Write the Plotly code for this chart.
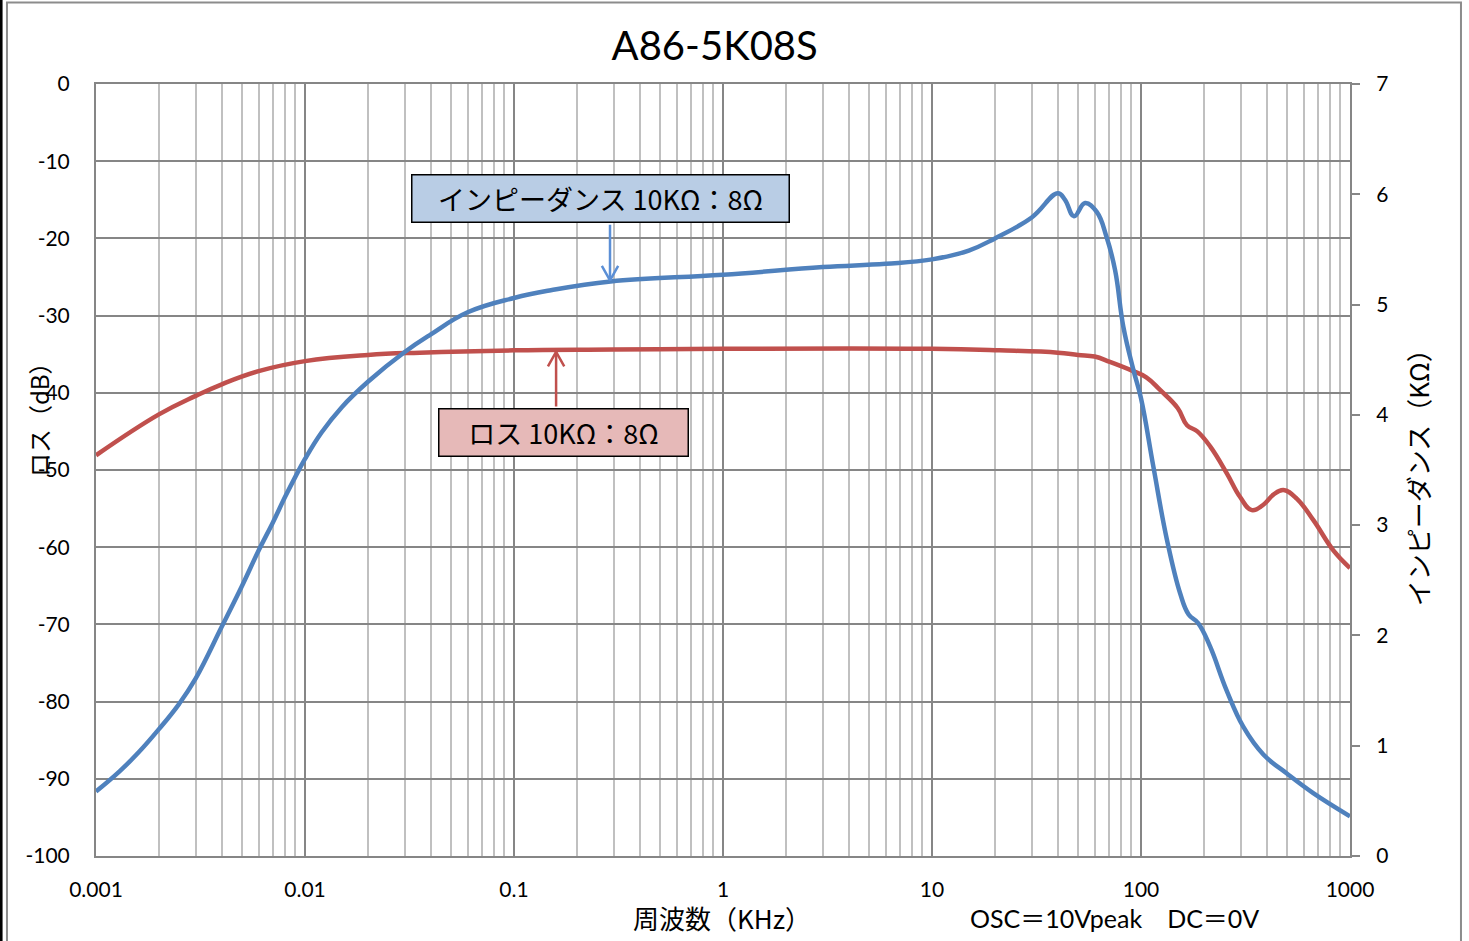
import math
import plotly.graph_objects as go

# ---------------- data ----------------
imp_freq_khz = [0.001, 0.0013, 0.0016, 0.002, 0.0025, 0.003, 0.004, 0.005, 0.006, 0.007,
                0.008, 0.009, 0.01, 0.012, 0.015, 0.02, 0.03, 0.04, 0.06, 0.1, 0.15,
                0.29, 1, 3, 6, 10, 15, 20, 30, 40, 43.3, 47.8, 54, 61.4, 68.5, 75.2,
                82.3, 91.9, 100, 114.6, 133, 154, 169, 188, 214, 257, 309, 385, 497,
                667, 1000]
imp_kohm = [0.585, 0.77, 0.94, 1.15, 1.38, 1.61, 2.08, 2.45, 2.77, 3.02,
            3.25, 3.44, 3.60, 3.84, 4.07, 4.30, 4.57, 4.73, 4.93, 5.06, 5.13,
            5.21, 5.27, 5.34, 5.37, 5.41, 5.49, 5.60, 5.79, 6.01, 5.95, 5.80, 5.92,
            5.84, 5.61, 5.31, 4.80, 4.41, 4.15, 3.53, 2.87, 2.38, 2.19, 2.11, 1.90,
            1.50, 1.17, 0.92, 0.75, 0.57, 0.36]

loss_freq_khz = [0.001, 0.002, 0.003, 0.004, 0.006, 0.01, 0.02, 0.0355, 0.1, 0.3, 1,
                 10, 21, 40, 50, 60, 71, 90, 106, 123, 150, 166, 186, 215, 257, 298, 339,
                 385, 430, 480, 556, 668, 832, 1000]
loss_db = [-48.1, -42.8, -40.4, -38.9, -37.2, -35.9, -35.1, -34.8, -34.5, -34.4, -34.3,
           -34.3, -34.5, -34.8, -35.1, -35.3, -36.0, -37.1, -38.0, -39.6, -42.0, -44.2, -45.0,
           -47.0, -50.4, -53.5, -55.2, -54.5, -53.2, -52.6, -53.7, -56.5, -60.4, -62.7]

x_tick_vals = [0.001, 0.01, 0.1, 1, 10, 100, 1000]
x_tick_text = ["0.001", "0.01", "0.1", "1", "10", "100", "1000"]
x_minor_vals = [m * d for d in [0.001, 0.01, 0.1, 1, 10, 100] for m in range(2, 10)]
left_tick_vals = [0, -10, -20, -30, -40, -50, -60, -70, -80, -90, -100]
left_tick_text = ["0", "-10", "-20", "-30", "-40", "-50", "-60", "-70", "-80", "-90", "-100"]
right_tick_vals = [0, 1, 2, 3, 4, 5, 6, 7]

title_text = "A86-5K08S"
imp_label = "インピーダンス 10KΩ：8Ω"
loss_label = "ロス 10KΩ：8Ω"
imp_arrow_at = (0.288, 5.22)
loss_arrow_at = (0.159, -34.7)

# ---------------- style ----------------
BLUE = "#4f81bd"
RED = "#c0504d"
MAJ = "#868686"
MIN = "#c0c0c0"
LAT = "Lato, 'Noto Sans CJK JP', sans-serif"
JP = "'Noto Sans CJK JP', Lato, sans-serif"

fig = go.Figure()
fig.add_trace(go.Scatter(x=loss_freq_khz, y=loss_db, mode="lines",
                         line=dict(color=RED, width=4.5, shape="spline", smoothing=1.2),
                         yaxis="y", showlegend=False))
fig.add_trace(go.Scatter(x=imp_freq_khz, y=imp_kohm, mode="lines",
                         line=dict(color=BLUE, width=4.5, shape="spline", smoothing=1.2),
                         yaxis="y2", showlegend=False))

fig.update_layout(
    width=1469, height=941,
    margin=dict(l=96, r=119, t=84, b=85),
    paper_bgcolor="white", plot_bgcolor="white",
    font=dict(family=LAT, size=21, color="black"),
    title=dict(text=title_text, x=0.4865, xanchor="center", y=0.951, yanchor="middle",
               font=dict(family=LAT, size=40, color="black")),
    xaxis=dict(type="log", range=[-3, 3], tickmode="array", tickvals=x_tick_vals,
               ticktext=x_tick_text, showgrid=True, gridcolor=MAJ, gridwidth=2,
               showline=True, linecolor=MAJ, linewidth=2, mirror=True, ticks="",
               ticklabelstandoff=14, zeroline=False,
               minor=dict(tickmode="array", tickvals=x_minor_vals, showgrid=True,
                          gridcolor=MIN, gridwidth=1.5, ticks="")),
    yaxis=dict(range=[-100, 0], tickmode="array", tickvals=left_tick_vals,
               ticktext=left_tick_text,
               showgrid=True, gridcolor=MAJ, gridwidth=2, zeroline=False,
               showline=True, linecolor=MAJ, linewidth=2, mirror=True, ticks="",
               ticklabelstandoff=20),
    yaxis2=dict(range=[0, 7], overlaying="y", side="right", tickmode="array",
                tickvals=right_tick_vals, showgrid=False, zeroline=False,
                showline=True, linecolor=MAJ, linewidth=2, ticks="outside",
                ticklen=8, tickcolor=MAJ, tickwidth=2, ticklabelstandoff=12),
)

ann = []
# axis titles and notes
ann.append(dict(text="ロス（dB）", xref="paper", yref="paper", x=-0.0462, y=0.5725,
                textangle=-90, showarrow=False, font=dict(family=JP, size=24),
                xanchor="center", yanchor="middle"))
ann.append(dict(text="インピーダンス（KΩ）", xref="paper", yref="paper", x=1.0535, y=0.4985,
                textangle=-90, showarrow=False, font=dict(family=JP, size=26),
                xanchor="center", yanchor="middle"))
ann.append(dict(text="周波数（KHz）", xref="paper", yref="paper", x=0.4995, y=-0.08,
                showarrow=False, font=dict(family=JP, size=26),
                xanchor="center", yanchor="middle"))
ann.append(dict(text="OSC＝10Vpeak　DC＝0V", xref="paper", yref="paper", x=0.6954, y=-0.08,
                showarrow=False, font=dict(family=LAT, size=25),
                xanchor="left", yanchor="middle"))
# label boxes
ann.append(dict(text=imp_label, xref="paper", yref="paper", x=0.4027, y=0.852,
                showarrow=False, bgcolor="#b9cde5", bordercolor="black", borderwidth=1.5,
                width=374, height=44, font=dict(family=JP, size=27),
                xanchor="center", yanchor="middle"))
ann.append(dict(text=loss_label, xref="paper", yref="paper", x=0.3732, y=0.549,
                showarrow=False, bgcolor="#e6b9b8", bordercolor="black", borderwidth=1.5,
                width=246, height=44, font=dict(family=JP, size=27),
                xanchor="center", yanchor="middle"))
# arrows (shaft + open V head); annotation x on a log axis is given in log10 units
for axv, ayv in [(0, -57), (-9, -16), (9, -16)]:
    ann.append(dict(text="", x=math.log10(imp_arrow_at[0]), y=imp_arrow_at[1],
                    xref="x", yref="y2",
                    showarrow=True, arrowhead=0, arrowwidth=2.5, arrowcolor="#5b8fd6",
                    ax=axv, ay=ayv, standoff=0, startstandoff=0))
for axv, ayv in [(0, 56), (-9, 16), (9, 16)]:
    ann.append(dict(text="", x=math.log10(loss_arrow_at[0]), y=loss_arrow_at[1],
                    xref="x", yref="y",
                    showarrow=True, arrowhead=0, arrowwidth=2.5, arrowcolor=RED,
                    ax=axv, ay=ayv, standoff=0, startstandoff=0))
fig.update_layout(annotations=ann)

# outer chart frame
fig.add_shape(type="rect", xref="paper", yref="paper", x0=-0.0710, x1=1.0885,
              y0=-0.112, y1=1.1055, line=dict(color="#8c8c8c", width=2), layer="below")
fig.add_shape(type="line", xref="paper", yref="paper", x0=-0.0757, x1=-0.0757,
              y0=-0.12, y1=1.12, line=dict(color="black", width=3))

fig.write_html("out.html", config={"displayModeBar": False},
               post_script="document.body.style.margin='0px';")
